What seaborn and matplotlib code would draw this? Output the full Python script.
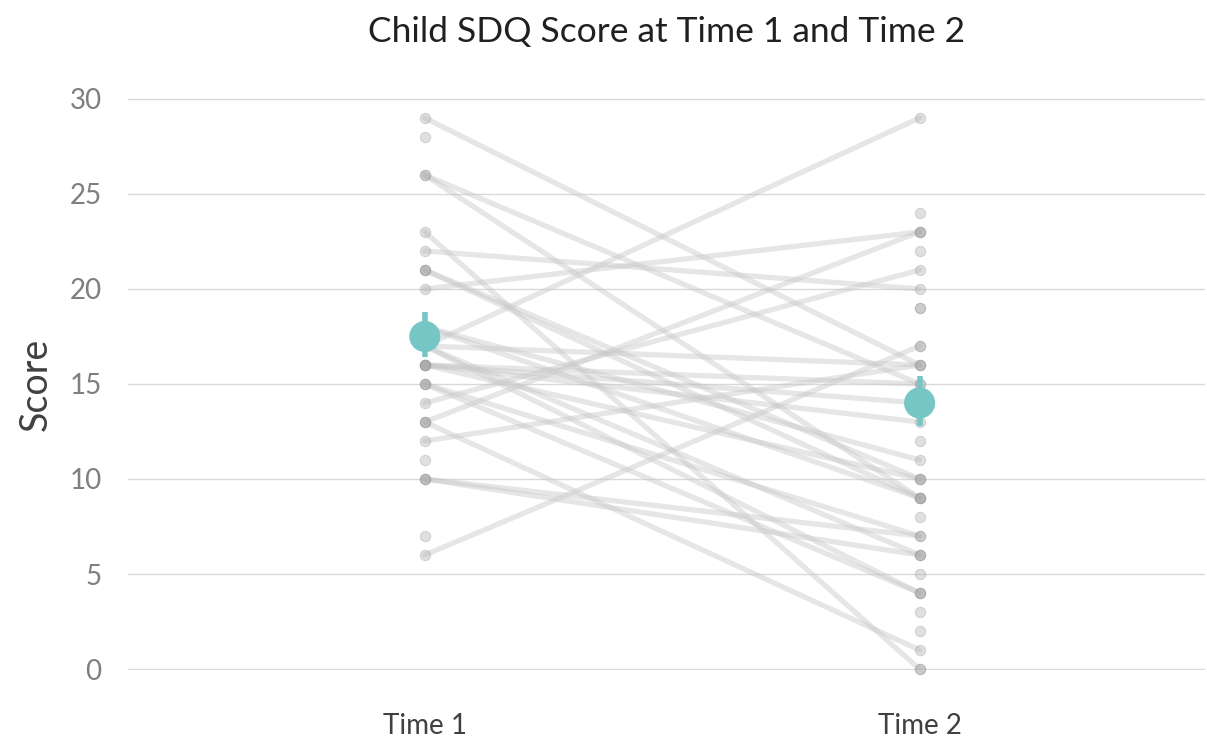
import pandas as pd
import numpy as np
import matplotlib.pyplot as plt
import seaborn as sns

# paired scores (same child at time 1 and time 2)
time1_paired = [29, 26, 26, 23, 22, 21, 21, 20, 18, 18, 17, 17, 17, 17,
                16, 16, 16, 16, 15, 15, 14, 13, 13, 12, 10, 10, 6]
time2_paired = [16, 15, 9, 0, 20, 10, 9, 23, 11, 9, 29, 16, 6, 4,
                15, 14, 13, 10, 7, 4, 21, 23, 1, 16, 7, 6, 17]

# scores with no partner at the other time point
time1_only = [28, 21, 16, 15, 13, 11, 10, 7]
time2_only = [24, 23, 22, 19, 19, 17, 12, 10, 9, 8, 6, 5, 4, 3, 2, 0]

time_labels = ['Time 1', 'Time 2']
mean_scores = [17.5, 14.0]
err_low = [16.4, 12.8]
err_high = [18.8, 15.4]

# long form table for the lines
rows = []
for i, (a, b) in enumerate(zip(time1_paired, time2_paired)):
    rows.append({'child': i, 'time': 0, 'score': a})
    rows.append({'child': i, 'time': 1, 'score': b})
pairs = pd.DataFrame(rows)

dots = pd.DataFrame({
    'time': [0] * len(time1_paired + time1_only) + [1] * len(time2_paired + time2_only),
    'score': time1_paired + time1_only + time2_paired + time2_only,
})

sns.set_style('white')
plt.rcParams['font.family'] = ['Lato', 'DejaVu Sans']

fig = plt.figure(figsize=(12.07, 7.44), dpi=100)
# y range padded a little so the 0 and 30 gridlines are not clipped
ax = fig.add_axes([0.106, 0.0995, 0.892, 0.7688])

sns.lineplot(data=pairs, x='time', y='score', units='child', estimator=None,
             color='#c8c8c8', alpha=0.45, linewidth=3.8, ax=ax, zorder=2)
sns.scatterplot(data=dots, x='time', y='score', color='#a8a8a8', alpha=0.35,
                s=55, edgecolor='#9a9a9a', linewidth=0.8, ax=ax, zorder=3, clip_on=False)

# mean with error bars
ax.vlines([0, 1], err_low, err_high, color='#77c6c6', linewidth=4, zorder=4)
sns.scatterplot(x=[0, 1], y=mean_scores, color='#77c6c6', s=500, edgecolor='none',
                ax=ax, zorder=5)

ax.set_xlim(-0.6, 1.576)
ax.set_ylim(-0.05, 30.05)
ax.set_yticks([0, 5, 10, 15, 20, 25, 30])
ax.set_xticks([0, 1])
ax.set_xticklabels(time_labels)
ax.grid(axis='y', color='#d9d9d9', linewidth=1)
ax.grid(axis='x', visible=False)
ax.set_axisbelow(True)
sns.despine(ax=ax, left=True, bottom=True)
ax.tick_params(axis='y', colors='#7f7f7f', labelsize=20, length=0, pad=19)
ax.tick_params(axis='x', colors='#404040', labelsize=20, length=0, pad=31)
ax.set_xlabel('')
ax.set_ylabel('Score', fontsize=27, color='#404040', labelpad=11)
ax.set_title('Child SDQ Score at Time 1 and Time 2', fontsize=25.5, color='#202020', pad=40)

plt.savefig('out.png', dpi=100)
